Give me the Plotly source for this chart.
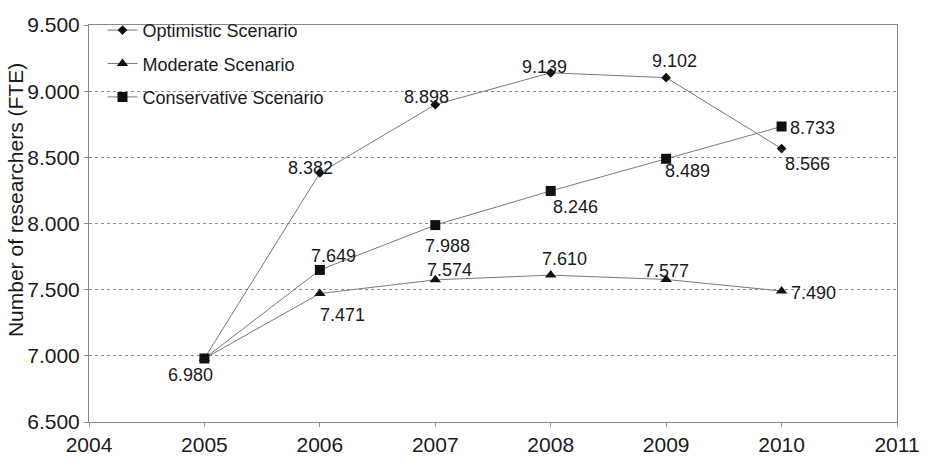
import plotly.graph_objects as go

# Projected number of researchers (full-time equivalents) per scenario
years = [2005, 2006, 2007, 2008, 2009, 2010]
optimistic = [6980, 8382, 8898, 9139, 9102, 8566]
moderate = [6980, 7471, 7574, 7610, 7577, 7490]
conservative = [6980, 7649, 7988, 8246, 8489, 8733]

series_names = ["Optimistic Scenario", "Moderate Scenario", "Conservative Scenario"]
series_values = [optimistic, moderate, conservative]
series_symbols = ["diamond", "triangle-up", "square"]
series_sizes = [7.5, 10, 10]

# Pixel offsets (dx, dy; dy positive = up) of each value label from its marker
label_offsets = [
    [None, (-9, 5), (-9, 8), (-6, 6), (8, 17), (26, -15)],
    [None, (23, -21), (14, 10), (14, 16), (0, 8), (32, -2)],
    [(-14, -17), (14, 14), (12, -21), (25, -16), (21, -12), (31, -1)],
]

FONT = "Arial, Liberation Sans, sans-serif"
LINE_GREY = "#7a7a7a"
TEXT = "#1a1a1a"


def fmt(v):
    return f"{v:,}".replace(",", ".")


fig = go.Figure()
annotations = []
for name, vals, sym, size, offs in zip(series_names, series_values,
                                       series_symbols, series_sizes,
                                       label_offsets):
    fig.add_trace(go.Scatter(
        x=years, y=vals, name=name, mode="lines+markers",
        line=dict(color=LINE_GREY, width=1),
        marker=dict(symbol=sym, size=size, color="#111111",
                    line=dict(width=0)),
        legendgroup=name,
    ))
    for x, v, off in zip(years, vals, offs):
        if off is None:
            continue
        annotations.append(dict(
            x=x, y=v, xref="x", yref="y", text=fmt(v), showarrow=False,
            xshift=off[0], yshift=off[1],
            font=dict(family=FONT, size=18, color=TEXT),
        ))

# Y-axis title, placed as a rotated annotation left of the tick labels
annotations.append(dict(
    x=0, y=0.559, xref="paper", yref="paper", xanchor="center",
    yanchor="middle", xshift=-74, textangle=-90, showarrow=False,
    text="Number of researchers (FTE)",
    font=dict(family=FONT, size=21, color=TEXT),
))

fig.update_layout(
    width=932, height=468,
    margin=dict(l=89, r=34, t=12, b=39),
    paper_bgcolor="white", plot_bgcolor="white",
    separators=",.",
    font=dict(family=FONT, color=TEXT),
    annotations=annotations,
    showlegend=True,
    legend=dict(
        x=0.0167, y=1.033, xanchor="left", yanchor="top",
        bgcolor="rgba(0,0,0,0)", borderwidth=0,
        font=dict(family=FONT, size=18, color=TEXT),
        traceorder="grouped", tracegroupgap=7,
    ),
    xaxis=dict(
        range=[2004, 2011], dtick=1, tick0=2004,
        showline=True, linecolor="#888888", linewidth=1, mirror=True,
        ticks="outside", ticklen=4, tickcolor="#999999",
        showgrid=False, zeroline=False,
        tickfont=dict(family=FONT, size=21, color=TEXT),
    ),
    yaxis=dict(
        range=[6500, 9500], dtick=500, tick0=6500, tickformat=",d",
        showline=True, linecolor="#888888", linewidth=1, mirror=True,
        ticks="outside", ticklen=4, tickcolor="#888888",
        showgrid=True, gridcolor="#8c8c8c", gridwidth=1, griddash="dot",
        zeroline=False,
        tickfont=dict(family=FONT, size=21, color=TEXT),
    ),
)

fig.write_html("out.html")
